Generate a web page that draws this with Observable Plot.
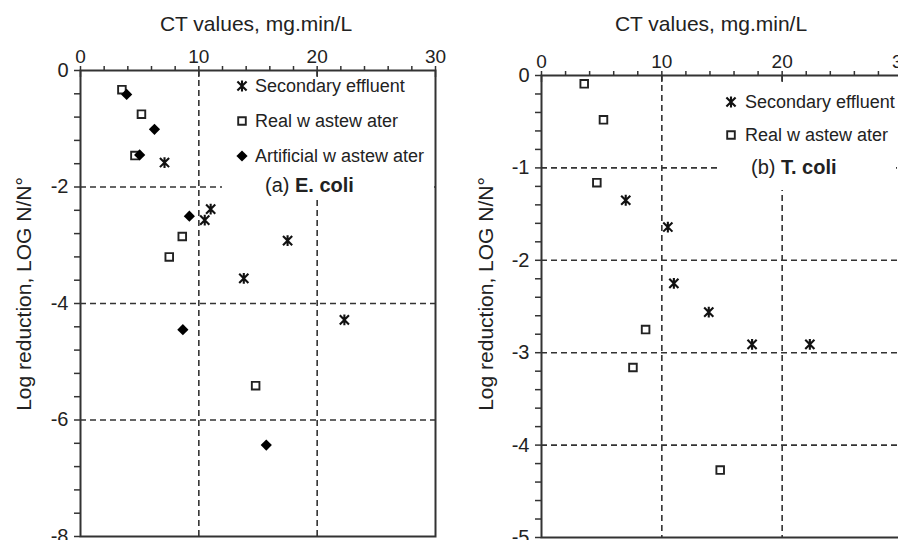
<!DOCTYPE html>
<html><head><meta charset="utf-8">
<script src="https://cdn.jsdelivr.net/npm/d3@7"></script>
<script src="https://cdn.jsdelivr.net/npm/@observablehq/plot@0.6"></script>
<style>
html,body{margin:0;padding:0;overflow:hidden;background:#fff;}
#root{position:relative;width:898px;height:540px;overflow:hidden;font-family:"Liberation Sans",Arial,sans-serif;color:#222;}
.abs{position:absolute;white-space:nowrap;line-height:1;}
.plot{position:absolute;top:0;}
</style></head><body><div id="root"></div>
<script>
// ---------- data ----------
const xTickLabels = [0, 10, 20, 30];
const seriesNames = ["Secondary effluent", "Real w astew ater", "Artificial w astew ater"];

// (a) E. coli
const ecoliSecondaryCT  = [7.1, 11.0, 10.5, 17.5, 13.8, 22.3];
const ecoliSecondaryLog = [-1.58, -2.38, -2.57, -2.92, -3.57, -4.28];
const ecoliRealCT       = [3.5, 5.15, 4.6, 8.6, 7.5, 14.8];
const ecoliRealLog      = [-0.33, -0.75, -1.46, -2.85, -3.20, -5.41];
const ecoliArtificialCT = [3.9, 6.25, 5.0, 9.2, 8.65, 15.7];
const ecoliArtificialLog= [-0.41, -1.01, -1.45, -2.50, -4.45, -6.43];
const ecoliYTickLabels  = [0, -2, -4, -6, -8];

// (b) T. coli
const tcoliSecondaryCT  = [7.0, 10.5, 11.0, 13.9, 17.5, 22.3];
const tcoliSecondaryLog = [-1.35, -1.64, -2.25, -2.56, -2.91, -2.91];
const tcoliRealCT       = [3.55, 5.15, 4.6, 8.65, 7.6, 14.85];
const tcoliRealLog      = [-0.09, -0.48, -1.16, -2.75, -3.16, -4.27];
const tcoliYTickLabels  = [0, -1, -2, -3, -4, -5];

// ---------- symbols ----------
const starSymbol = {draw(ctx, size) {
  const r = Math.sqrt(size / Math.PI), a = r * 0.85;
  ctx.moveTo(0, -r); ctx.lineTo(0, r);
  ctx.moveTo(-a, -a); ctx.lineTo(a, a);
  ctx.moveTo(-a, a); ctx.lineTo(a, -a);
}};
const squareSymbol = {draw(ctx, size) {
  const r = Math.sqrt(size / Math.PI);
  ctx.rect(-r, -r, 2 * r, 2 * r);
}};
const diamondSymbol = {draw(ctx, size) {
  const r = Math.sqrt(size / Math.PI);
  ctx.moveTo(0, -r); ctx.lineTo(r, 0); ctx.lineTo(0, r); ctx.lineTo(-r, 0); ctx.closePath();
}};
const styles = {
  "Secondary effluent": {symbol: starSymbol, r: 5.4, fill: "none", stroke: "#111", strokeWidth: 2.1},
  "Real w astew ater": {symbol: squareSymbol, r: 3.8, fill: "white", stroke: "#222", strokeWidth: 1.9},
  "Artificial w astew ater": {symbol: diamondSymbol, r: 5.6, fill: "#000", stroke: "none", strokeWidth: 0}
};

const rows = (name, xs, ys) => xs.map((x, i) => ({series: name, ct: x, log: ys[i]}));

const root = document.getElementById("root");
const FONT = '"Liberation Sans", Arial, sans-serif';
const dash = {stroke: "#333", strokeWidth: 1.6, strokeDasharray: "6,4"};

function panel({left, width, mL, mR, mT, mB, yMin, yMinor, yLabels, gridY, series}) {
  const yTicks = d3.range(0, Math.round(-yMin / yMinor) + 1).map(i => +(-i * yMinor).toFixed(4));
  const marks = [
    Plot.ruleX([10, 20], dash),
    Plot.ruleY(gridY, dash),
    Plot.frame({stroke: "#333", strokeWidth: 2}),
    Plot.axisX(d3.range(0, 31, 2), {anchor: "top", tickSize: 5, tickPadding: 3, stroke: "#333", strokeWidth: 1.5,
      fontSize: 19, fill: "#222", tickFormat: d => xTickLabels.includes(d) ? String(d) : "", label: null}),
    Plot.axisX(xTickLabels, {anchor: "top", tickSize: -6, tickFormat: () => "", stroke: "#333", strokeWidth: 1.5, label: null}),
    Plot.axisY(yTicks, {anchor: "left", tickSize: 6, tickPadding: 6, stroke: "#333", strokeWidth: 1.5,
      fontSize: 20, fill: "#222", tickFormat: d => yLabels.includes(d) ? String(d) : "", label: null})
  ];
  for (const s of series) {
    const st = styles[s.name];
    marks.push(Plot.dot(rows(s.name, s.x, s.y), {x: "ct", y: "log", symbol: st.symbol, r: st.r,
      fill: st.fill, stroke: st.stroke, strokeWidth: st.strokeWidth}));
  }
  const svg = Plot.plot({
    width, height: 540,
    marginLeft: mL, marginRight: mR, marginTop: mT, marginBottom: mB,
    x: {domain: [0, 30], axis: null},
    y: {domain: [yMin, 0], axis: null},
    style: {fontFamily: FONT, fontSize: "18px", color: "#222", background: "transparent", overflow: "visible"},
    marks
  });
  svg.classList.add("plot");
  svg.style.left = left + "px";
  root.appendChild(svg);
}

panel({left: 0, width: 449, mL: 80, mR: 14, mT: 70, mB: 4, yMin: -8, yMinor: 0.4,
  yLabels: ecoliYTickLabels, gridY: [-2, -4, -6],
  series: [
    {name: seriesNames[0], x: ecoliSecondaryCT, y: ecoliSecondaryLog},
    {name: seriesNames[1], x: ecoliRealCT, y: ecoliRealLog},
    {name: seriesNames[2], x: ecoliArtificialCT, y: ecoliArtificialLog}
  ]});
panel({left: 449, width: 460, mL: 92, mR: 7, mT: 75, mB: 3, yMin: -5, yMinor: 0.2,
  yLabels: tcoliYTickLabels, gridY: [-1, -2, -3, -4],
  series: [
    {name: seriesNames[0], x: tcoliSecondaryCT, y: tcoliSecondaryLog},
    {name: seriesNames[1], x: tcoliRealCT, y: tcoliRealLog}
  ]});

// ---------- text & legends ----------
function addText(txt, css) {
  const d = document.createElement("div");
  d.className = "abs";
  d.innerHTML = txt;
  Object.assign(d.style, css);
  root.appendChild(d);
  return d;
}
function symbolSvg(name) {
  const st = styles[name];
  const p = d3.path();
  st.symbol.draw(p, Math.PI * st.r * st.r);
  const ns = "http://www.w3.org/2000/svg";
  const svg = document.createElementNS(ns, "svg");
  svg.setAttribute("width", 16); svg.setAttribute("height", 16);
  svg.setAttribute("viewBox", "-8 -8 16 16");
  const path = document.createElementNS(ns, "path");
  path.setAttribute("d", p.toString());
  path.setAttribute("fill", st.fill);
  path.setAttribute("stroke", st.stroke);
  path.setAttribute("stroke-width", st.strokeWidth);
  svg.appendChild(path);
  return svg;
}
function legend({left, top, width, height, items, label}) {
  const box = document.createElement("div");
  Object.assign(box.style, {position: "absolute", left: left + "px", top: top + "px", width: width + "px",
    height: height + "px", background: "#fff"});
  root.appendChild(box);
  for (const it of items) {
    const s = symbolSvg(it.name);
    Object.assign(s.style, {position: "absolute", left: (it.sx - 8) + "px", top: (it.sy - 8) + "px"});
    root.appendChild(s);
    addText(it.name, {left: it.tx + "px", top: (it.sy - 9) + "px", fontSize: "18px"});
  }
  addText(label.html, {left: label.x + "px", top: label.y + "px", fontSize: "20px"});
}

legend({left: 222, top: 77, width: 212, height: 123,
  items: [
    {name: seriesNames[0], sx: 242, sy: 86, tx: 255},
    {name: seriesNames[1], sx: 242, sy: 121, tx: 255},
    {name: seriesNames[2], sx: 242, sy: 156, tx: 255}
  ],
  label: {html: '(a) <b>E. coli</b>', x: 265, y: 175}});
legend({left: 718, top: 82, width: 178, height: 108,
  items: [
    {name: seriesNames[0], sx: 731, sy: 102, tx: 745},
    {name: seriesNames[1], sx: 731, sy: 135, tx: 745}
  ],
  label: {html: '(b) <b>T. coli</b>', x: 751, y: 157}});

// axis titles
for (const cx of [256, 711]) {
  addText("CT values, mg.min/L", {left: cx + "px", top: "13px", fontSize: "21px", transform: "translateX(-50%)"});
}
for (const cx of [23, 485]) {
  addText("Log reduction, LOG N/N°", {left: cx + "px", top: "294px", fontSize: "21px",
    transform: "translate(-50%,-50%) rotate(-90deg)"});
}
</script></body></html>
